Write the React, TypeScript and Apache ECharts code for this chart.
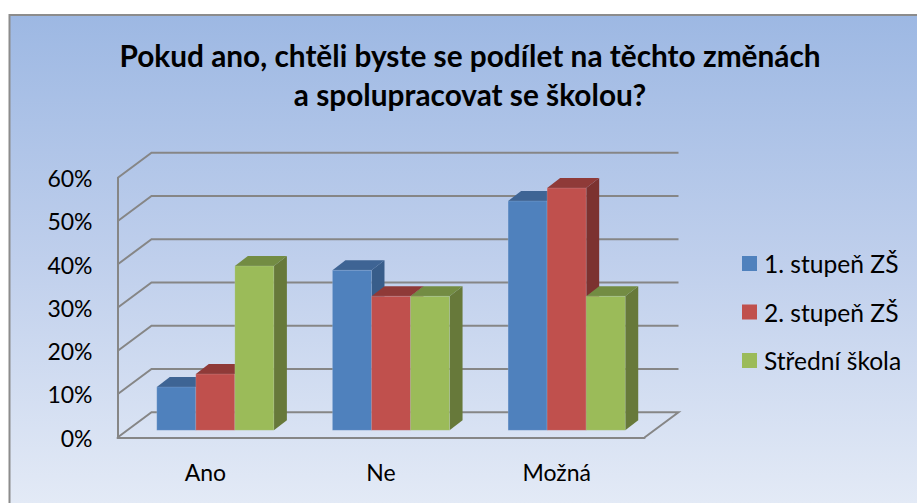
import React, { useEffect, useRef } from "react";
import * as echarts from "echarts";

const categories = ["Ano", "Ne", "Možná"];
const firstStage = [10, 37, 53];
const secondStage = [13, 31, 56];
const highSchool = [38, 31, 31];
const yTicks = [0, 10, 20, 30, 40, 50, 60];
const titleText = "Pokud ano, chtěli byste se podílet na těchto změnách\na spolupracovat se školou?";
const FONT = "Lato";

const GRID = "#868686";
const DEPTH_X = 34;
const DEPTH_Y = 25.3;
const BAR_DX = 10;
const BAR_DY = 7.2;
const TOP_DX = 13;
const TOP_DY = 10;
const BAR_RATIO = 39 / 175.5;

const seriesDefs = [
  { name: "1. stupeň ZŠ", values: firstStage, front: "#4F81BD", top: "#3E6494", side: "#385D8A", slot: -1.5 },
  { name: "2. stupeň ZŠ", values: secondStage, front: "#C0504D", top: "#8F3A38", side: "#7C3230", slot: -0.5 },
  { name: "Střední škola", values: highSchool, front: "#9BBB59", top: "#738C43", side: "#67793A", slot: 0.5 },
];

function barSeries(def: (typeof seriesDefs)[number]) {
  return {
    name: def.name,
    type: "custom",
    coordinateSystem: "cartesian2d",
    clip: false,
    z: 3,
    itemStyle: { color: def.front },
    encode: { x: 0, y: 1 },
    data: def.values.map((v, i) => [i, v]),
    renderItem: (_p: any, api: any) => {
      const c = api.coord([api.value(0), api.value(1)]);
      const b = api.coord([api.value(0), 0]);
      const w = api.size([1, 0])[0] * BAR_RATIO;
      const x0 = c[0] + BAR_DX + def.slot * w;
      const x1 = x0 + w;
      const yTop = c[1] - BAR_DY;
      const yBase = b[1] - BAR_DY;
      const edge = { stroke: "rgba(215,228,245,0.35)", lineWidth: 0.5 };
      return {
        type: "group",
        children: [
          {
            type: "polygon",
            shape: { points: [[x1, yTop], [x1 + TOP_DX, yTop - TOP_DY], [x1 + TOP_DX, yBase - TOP_DY], [x1, yBase]] },
            style: { fill: def.side },
          },
          {
            type: "polygon",
            shape: { points: [[x0, yTop], [x0 + TOP_DX, yTop - TOP_DY], [x1 + TOP_DX, yTop - TOP_DY], [x1, yTop]] },
            style: { fill: def.top },
          },
          {
            type: "rect",
            shape: { x: x0, y: yTop, width: w, height: yBase - yTop },
            style: { fill: def.front, ...edge },
          },
        ],
      };
    },
  };
}

export default function App() {
  const ref = useRef<HTMLDivElement>(null);
  useEffect(() => {
    const chart = echarts.init(ref.current!, undefined, { renderer: "svg" });
    chart.setOption({
      animation: false,
      backgroundColor: "#ffffff",
      graphic: [
        {
          type: "rect",
          z: -1,
          shape: { x: 9.5, y: 15, width: 1000, height: 700 },
          style: {
            stroke: "#8C8C8C",
            lineWidth: 2,
            fill: {
              type: "linear", x: 0, y: 15, x2: 0, y2: 503, global: true,
              colorStops: [
                { offset: 0, color: "#9DB8E3" },
                { offset: 0.5, color: "#BFCFEC" },
                { offset: 1, color: "#E3EAF6" },
              ],
            },
          },
        },
      ],
      title: {
        text: titleText,
        left: 465,
        top: 31,
        textAlign: "center",
        textStyle: { fontFamily: FONT, fontSize: 29.8, fontWeight: "bold", color: "#000", lineHeight: 39 },
      },
      legend: {
        left: 737,
        top: 246,
        orient: "vertical",
        itemWidth: 15,
        itemHeight: 15,
        itemGap: 23.5,
        icon: "rect",
        data: seriesDefs.map((d) => d.name),
        textStyle: { fontFamily: FONT, fontSize: 24.6, color: "#000", padding: [0, 0, 0, 2] },
        selectedMode: false,
      },
      grid: { left: 117.5, top: 178, width: 527, height: 259.5 },
      xAxis: {
        type: "category",
        data: categories,
        axisTick: { show: false },
        axisLine: { lineStyle: { color: GRID, width: 2 } },
        axisLabel: { fontFamily: FONT, fontSize: 23, color: "#000", margin: 23 },
      },
      yAxis: {
        type: "value",
        min: 0,
        max: 60,
        interval: 10,
        axisLine: { show: true, lineStyle: { color: GRID, width: 2 } },
        axisTick: { show: false },
        splitLine: { show: false },
        axisLabel: { fontFamily: FONT, fontSize: 23, color: "#000", margin: 25, formatter: "{value}%" },
      },
      series: [
        {
          type: "custom",
          coordinateSystem: "cartesian2d",
          clip: false,
          z: 1,
          encode: { y: 0 },
          data: yTicks.map((v) => [v]),
          renderItem: (p: any, api: any) => {
            const y = api.coord([0, api.value(0)])[1];
            const cs = p.coordSys;
            const left = cs.x;
            const right = cs.x + cs.width;
            const pts: number[][] = [
              [left, y],
              [left + DEPTH_X, y - DEPTH_Y],
              [right + DEPTH_X, y - DEPTH_Y],
            ];
            if (api.value(0) === 0) pts.push([right, y]);
            return {
              type: "polyline",
              shape: { points: pts },
              style: { stroke: GRID, lineWidth: 2, fill: "none" },
            };
          },
        },
        ...seriesDefs.map(barSeries),
      ],
    });
    return () => chart.dispose();
  }, []);
  return <div ref={ref} style={{ position: "fixed", left: 0, top: 0, width: 917, height: 503 }} />;
}
